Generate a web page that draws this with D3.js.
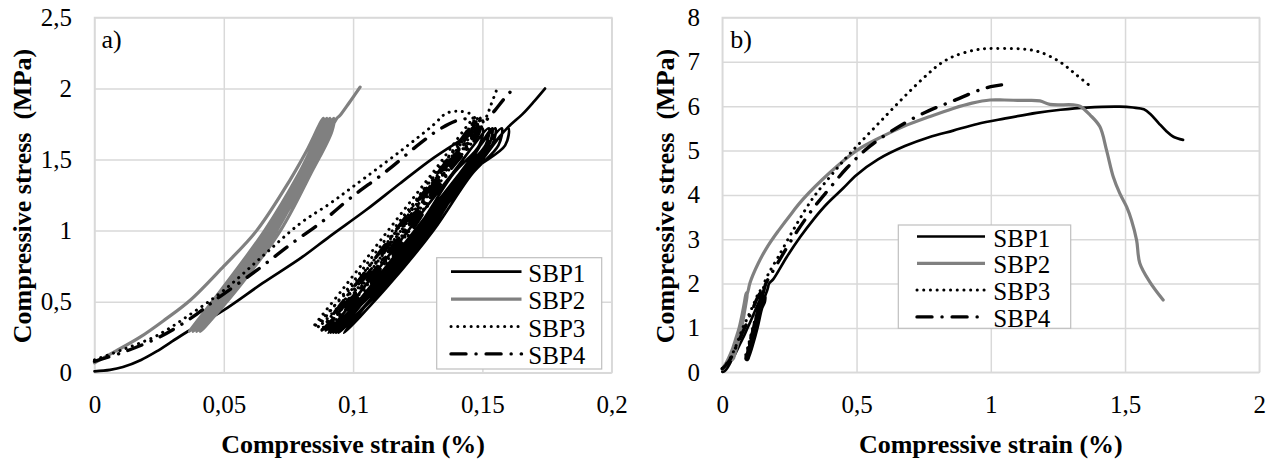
<!DOCTYPE html>
<html>
<head>
<meta charset="utf-8">
<script src="https://cdn.jsdelivr.net/npm/d3@7"></script>
<style>
  body { margin: 0; background: #fff; }
</style>
</head>
<body>
<svg id="chart" width="1276" height="461"></svg>
<script>
// Compressive stress-strain curves of four specimens (SBP1..SBP4)
// a) zoom on the cyclic part, b) full test up to failure

const seriesNames = ["SBP1", "SBP2", "SBP3", "SBP4"]

// panel a ticks
const xTicksA = [0, 0.05, 0.1, 0.15, 0.2]
const xLabelsA = ["0", "0,05", "0,1", "0,15", "0,2"]
const yTicksA = [0, 0.5, 1, 1.5, 2, 2.5]
const yLabelsA = ["0", "0,5", "1", "1,5", "2", "2,5"]

// panel b ticks
const xTicksB = [0, 0.5, 1, 1.5, 2]
const xLabelsB = ["0", "0,5", "1", "1,5", "2"]
const yTicksB = [0, 1, 2, 3, 4, 5, 6, 7, 8]
const yLabelsB = ["0", "1", "2", "3", "4", "5", "6", "7", "8"]

// [strain %, stress MPa] - first loading, load cycles, reloading up to 2 MPa
const sbp1Cycles = [
  [0, 0.01], [0.006, 0.02], [0.011, 0.04], [0.018, 0.09], [0.024, 0.15], [0.03, 0.22], [0.036, 0.29],
  [0.05, 0.44], [0.065, 0.63], [0.08, 0.81], [0.091, 0.96], [0.105, 1.145], [0.118, 1.33], [0.131, 1.51],
  [0.141, 1.63], [0.146, 1.69], [0.150, 1.72],
  [0.1488, 1.6], [0.1388, 1.4], [0.1243, 1.0], [0.1067, 0.6], [0.0905, 0.28],
  [0.1042, 0.6], [0.1213, 1.0], [0.1383, 1.4], [0.1525, 1.72],
  [0.1512, 1.6], [0.1412, 1.4], [0.1265, 1.0], [0.1088, 0.6], [0.0925, 0.28],
  [0.1064, 0.6], [0.1238, 1.0], [0.1411, 1.4], [0.155, 1.72],
  [0.1537, 1.6], [0.1436, 1.4], [0.1288, 1.0], [0.1109, 0.6], [0.0945, 0.28],
  [0.1085, 0.6], [0.126, 1.0], [0.1435, 1.4], [0.1575, 1.72],
  [0.1562, 1.6], [0.146, 1.4], [0.131, 1.0], [0.113, 0.6], [0.0965, 0.28],
  [0.1106, 0.6], [0.1283, 1.0], [0.1459, 1.4], [0.160, 1.72],
  [0.1588, 1.6], [0.1448, 1.4], [0.1299, 1.0], [0.1119, 0.6], [0.0935, 0.28],
  [0.1075, 0.6], [0.1249, 1.0], [0.1423, 1.4], [0.1538, 1.72],
  [0.1525, 1.6], [0.1424, 1.4], [0.1276, 1.0], [0.1098, 0.6], [0.0915, 0.28],
  [0.1096, 0.6], [0.127, 1.0], [0.1447, 1.4], [0.1595, 1.72],
  [0.1655, 1.82], [0.170, 1.91], [0.1742, 2.0]
]
const sbp2Cycles = [
  [0, 0.07], [0.008, 0.15], [0.0176, 0.25], [0.027, 0.37], [0.037, 0.51], [0.05, 0.75], [0.0627, 1.0],
  [0.0756, 1.356], [0.082, 1.56], [0.0885, 1.79],
  [0.0878, 1.7], [0.0795, 1.4], [0.0677, 1.0], [0.0514, 0.6], [0.0367, 0.29],
  [0.0497, 0.6], [0.0658, 1.0], [0.079, 1.4], [0.0898, 1.79],
  [0.0891, 1.7], [0.0809, 1.4], [0.0691, 1.0], [0.0529, 0.6], [0.0382, 0.29],
  [0.0511, 0.6], [0.0672, 1.0], [0.0803, 1.4], [0.091, 1.79],
  [0.0903, 1.7], [0.0821, 1.4], [0.0704, 1.0], [0.0542, 0.6], [0.0396, 0.29],
  [0.0525, 0.6], [0.0686, 1.0], [0.0817, 1.4], [0.0925, 1.79],
  [0.0918, 1.7], [0.0836, 1.4], [0.0719, 1.0], [0.0557, 0.6], [0.041, 0.29],
  [0.0539, 0.6], [0.07, 1.0], [0.083, 1.4], [0.0937, 1.79],
  [0.0949, 1.81], [0.0985, 1.9], [0.1027, 2.01]
]
const sbp3Cycles = [
  [0, 0.09], [0.012, 0.17], [0.024, 0.26], [0.037, 0.41], [0.05, 0.58], [0.065, 0.82], [0.0795, 1.05],
  [0.091, 1.19], [0.1, 1.31], [0.118, 1.555], [0.131, 1.743], [0.136, 1.825], [0.141, 1.84], [0.146, 1.81],
  [0.145, 1.7], [0.1314, 1.4], [0.1168, 1.0], [0.0992, 0.6], [0.0846, 0.32],
  [0.0965, 0.6], [0.1135, 1.0], [0.1305, 1.4], [0.1475, 1.8],
  [0.1465, 1.7], [0.133, 1.4], [0.1185, 1.0], [0.101, 0.6], [0.0865, 0.32],
  [0.0983, 0.6], [0.1152, 1.0], [0.1321, 1.4], [0.149, 1.8],
  [0.148, 1.7], [0.1347, 1.4], [0.1203, 1.0], [0.1029, 0.6], [0.0885, 0.32],
  [0.1001, 0.6], [0.1167, 1.0], [0.1334, 1.4], [0.150, 1.8],
  [0.149, 1.7], [0.1359, 1.4], [0.1218, 1.0], [0.1047, 0.6], [0.0905, 0.32],
  [0.102, 0.6], [0.1185, 1.0], [0.135, 1.4], [0.1515, 1.8],
  [0.153, 1.87], [0.1555, 1.99]
]
const sbp4Cycles = [
  [0, 0.08], [0.012, 0.15], [0.025, 0.25], [0.037, 0.38], [0.0473, 0.52], [0.0627, 0.72], [0.0756, 0.9],
  [0.0885, 1.07], [0.0988, 1.227], [0.113, 1.42], [0.1259, 1.614], [0.134, 1.72], [0.1413, 1.78], [0.1465, 1.78],
  [0.1455, 1.68], [0.1335, 1.4], [0.1197, 1.0], [0.1029, 0.6], [0.088, 0.3],
  [0.1002, 0.6], [0.1164, 1.0], [0.1326, 1.4], [0.148, 1.78],
  [0.147, 1.68], [0.135, 1.4], [0.1212, 1.0], [0.1044, 0.6], [0.0895, 0.3],
  [0.1017, 0.6], [0.1179, 1.0], [0.1341, 1.4], [0.1495, 1.78],
  [0.1485, 1.68], [0.1365, 1.4], [0.1227, 1.0], [0.1059, 0.6], [0.091, 0.3],
  [0.1033, 0.6], [0.1197, 1.0], [0.1361, 1.4], [0.1517, 1.78],
  [0.155, 1.85], [0.1585, 1.93], [0.162, 2.0]
]

// rest of the test (panel b only), continues from the last point above
const sbp1Tail = [
  [0.19, 2.1], [0.24, 2.6], [0.29, 3.05], [0.34, 3.45], [0.39, 3.8], [0.45, 4.15], [0.5, 4.45], [0.58, 4.8],
  [0.68, 5.1], [0.77, 5.3], [0.86, 5.45], [0.95, 5.6], [1.05, 5.72], [1.17, 5.85], [1.26, 5.92], [1.357, 5.97],
  [1.48, 5.99], [1.53, 5.97], [1.57, 5.93], [1.595, 5.82], [1.625, 5.62], [1.655, 5.43], [1.68, 5.31], [1.716, 5.24]
]
const sbp2Tail = [
  [0.134, 2.46], [0.17, 2.85], [0.21, 3.2], [0.26, 3.6], [0.30, 3.9], [0.40, 4.5], [0.5, 5.0], [0.6, 5.33],
  [0.674, 5.54], [0.77, 5.76], [0.86, 5.95], [0.93, 6.07], [0.997, 6.14], [1.05, 6.14], [1.12, 6.13],
  [1.183, 6.12], [1.22, 6.04], [1.307, 6.03], [1.332, 6.0], [1.37, 5.8], [1.406, 5.54], [1.431, 5.01],
  [1.456, 4.41], [1.48, 4.04], [1.506, 3.73], [1.524, 3.43], [1.543, 2.98], [1.555, 2.46], [1.592, 2.04],
  [1.642, 1.63]
]
const sbp3Tail = [
  [0.17, 2.2], [0.209, 2.61], [0.271, 3.28], [0.34, 3.95], [0.40, 4.4], [0.463, 4.85], [0.52, 5.22],
  [0.58, 5.6], [0.637, 5.96], [0.7, 6.35], [0.761, 6.7], [0.81, 6.95], [0.86, 7.12], [0.935, 7.26],
  [0.984, 7.3], [1.05, 7.3], [1.12, 7.29], [1.183, 7.22], [1.257, 7.0], [1.32, 6.7], [1.381, 6.4]
]
const sbp4Tail = [
  [0.2, 2.4], [0.27, 3.1], [0.339, 3.7], [0.4, 4.15], [0.463, 4.6], [0.55, 5.1], [0.674, 5.6],
  [0.77, 5.9], [0.86, 6.12], [0.96, 6.37], [1.0, 6.44], [1.04, 6.48]
]

// line look of each specimen
const styles = {
  SBP1: { color: "#000000", width: 2.7, dash: null },
  SBP2: { color: "#808080", width: 3.2, dash: null },
  SBP3: { color: "#000000", width: 3, dash: "0.1 6.6" },
  SBP4: { color: "#000000", width: 3.4, dash: "15 10 0.1 10" }
}

const svg = d3.select("#chart")
const gridColor = "#d9d9d9"
const fontFamily = "'Liberation Serif', 'Times New Roman', serif"

// Draws one panel: grid, curves, tick labels, titles and legend
const drawPanel = cfg => {
  const x = d3.scaleLinear().domain(cfg.xDomain).range([cfg.left, cfg.right])
  const y = d3.scaleLinear().domain(cfg.yDomain).range([cfg.bottom, cfg.top])
  const g = svg.append("g")

  // gridlines
  g.append("g")
    .attr("transform", `translate(0,${cfg.bottom})`)
    .call(d3.axisBottom(x).tickValues(cfg.xTicks).tickSize(cfg.top - cfg.bottom).tickFormat(""))
    .call(a => a.select(".domain").remove())
    .selectAll("line").attr("stroke", gridColor).attr("stroke-width", 1.5)
  g.append("g")
    .attr("transform", `translate(${cfg.left},0)`)
    .call(d3.axisLeft(y).tickValues(cfg.yTicks).tickSize(cfg.left - cfg.right).tickFormat(""))
    .call(a => a.select(".domain").remove())
    .selectAll("line").attr("stroke", gridColor).attr("stroke-width", 1.5)
  g.append("rect")
    .attr("x", cfg.left).attr("y", cfg.top)
    .attr("width", cfg.right - cfg.left).attr("height", cfg.bottom - cfg.top)
    .attr("fill", "none").attr("stroke", gridColor).attr("stroke-width", 1.5)

  // curves
  const line = d3.line()
    .x(d => x(d[0])).y(d => y(d[1]))
    .curve(d3.curveCatmullRom.alpha(0.5))
  cfg.series.forEach(s => {
    const st = styles[s.name]
    g.append("path")
      .attr("d", line(s.points))
      .attr("fill", "none")
      .attr("stroke", st.color)
      .attr("stroke-width", st.width)
      .attr("stroke-dasharray", st.dash)
      .attr("stroke-linecap", "round")
      .attr("stroke-linejoin", "round")
  })

  // tick labels
  const xAxis = g.append("g")
    .attr("transform", `translate(0,${cfg.bottom})`)
    .call(d3.axisBottom(x).tickValues(cfg.xTicks).tickSize(0).tickPadding(22.5)
      .tickFormat((d, i) => cfg.xLabels[i]))
  const yAxis = g.append("g")
    .attr("transform", `translate(${cfg.left},0)`)
    .call(d3.axisLeft(y).tickValues(cfg.yTicks).tickSize(0).tickPadding(cfg.yPad)
      .tickFormat((d, i) => cfg.yLabels[i]))
  ;[xAxis, yAxis].forEach(a => {
    a.select(".domain").remove()
    a.attr("font-family", null).attr("font-size", null)
    a.selectAll("text").attr("font-size", 25).attr("fill", "#000")
  })

  // axis titles
  g.append("text")
    .attr("x", (cfg.left + cfg.right) / 2).attr("y", 453)
    .attr("text-anchor", "middle").attr("font-size", 26).attr("font-weight", "bold")
    .text("Compressive strain (%)")
  g.append("text")
    .attr("transform", `translate(${cfg.yTitleX},196) rotate(-90)`)
    .attr("text-anchor", "middle").attr("font-size", 26).attr("font-weight", "bold")
    .style("white-space", "pre")
    .text("Compressive stress  (MPa)")

  // panel letter
  g.append("text")
    .attr("x", cfg.left + cfg.letterDx).attr("y", 48)
    .attr("font-size", 26)
    .text(cfg.letter)

  // legend
  const lg = cfg.legend
  g.append("rect")
    .attr("x", lg.x).attr("y", lg.y).attr("width", lg.w).attr("height", lg.h)
    .attr("fill", "#fff").attr("stroke", "#bfbfbf").attr("stroke-width", 1.2)
  seriesNames.forEach((name, i) => {
    const st = styles[name]
    const ly = lg.firstY + i * lg.step
    g.append("line")
      .attr("x1", lg.lineX1).attr("x2", lg.lineX2).attr("y1", ly).attr("y2", ly)
      .attr("stroke", st.color).attr("stroke-width", st.width)
      .attr("stroke-dasharray", st.dash).attr("stroke-linecap", st.dash ? "round" : "butt")
    g.append("text")
      .attr("x", lg.textX).attr("y", ly + 10)
      .attr("font-size", 25)
      .text(name)
  })

  g.selectAll("text").attr("font-family", fontFamily)
}

drawPanel({
  letter: "a)", letterDx: 7,
  xDomain: [0, 0.2], yDomain: [0, 2.5],
  left: 94.5, right: 611.7, top: 17.5, bottom: 372.7, yPad: 22.5, yTitleX: 31,
  xTicks: xTicksA, xLabels: xLabelsA, yTicks: yTicksA, yLabels: yLabelsA,
  series: [
    { name: "SBP1", points: sbp1Cycles },
    { name: "SBP2", points: sbp2Cycles },
    { name: "SBP3", points: sbp3Cycles },
    { name: "SBP4", points: sbp4Cycles }
  ],
  legend: { x: 436.7, y: 257.7, w: 165, h: 111.3, firstY: 271.7, step: 27.4, lineX1: 451, lineX2: 521.5, textX: 528.3 }
})

drawPanel({
  letter: "b)", letterDx: 8,
  xDomain: [0, 2], yDomain: [0, 8],
  left: 722.3, right: 1259.3, top: 17.5, bottom: 372.3, yPad: 22.3, yTitleX: 674,
  xTicks: xTicksB, xLabels: xLabelsB, yTicks: yTicksB, yLabels: yLabelsB,
  series: [
    { name: "SBP1", points: sbp1Cycles.concat(sbp1Tail) },
    { name: "SBP2", points: sbp2Cycles.concat(sbp2Tail) },
    { name: "SBP3", points: sbp3Cycles.concat(sbp3Tail) },
    { name: "SBP4", points: sbp4Cycles.concat(sbp4Tail) }
  ],
  legend: { x: 898.3, y: 225, w: 172.4, h: 103.3, firstY: 236.5, step: 26.8, lineX1: 917, lineX2: 985, textX: 993.3 }
})
</script>
</body>
</html>
